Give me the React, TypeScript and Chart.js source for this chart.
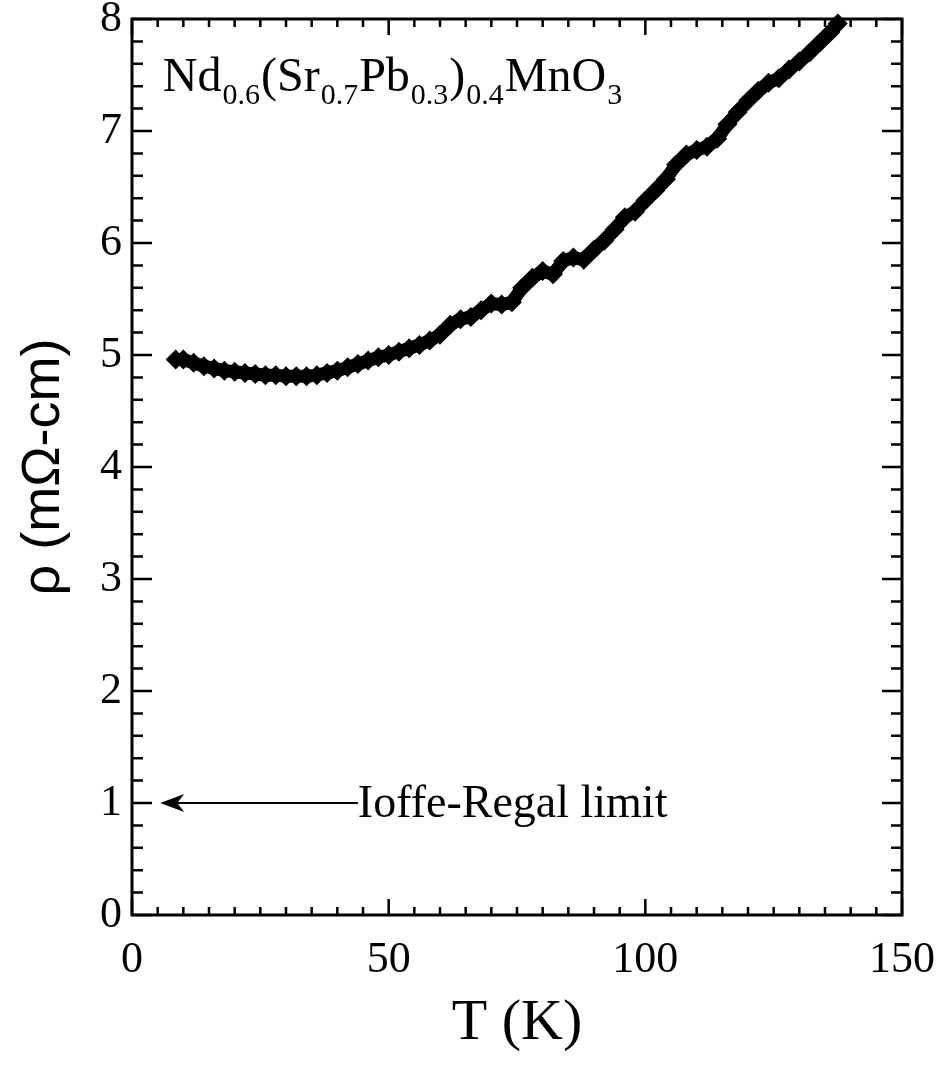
import React, { useEffect, useRef } from "react";
import { Chart, registerables } from "chart.js";

Chart.register(...registerables);

// ---- data ----
const temperatureK = [
  8.5, 10, 12, 14, 16, 18, 20, 22, 24, 26, 28, 30, 32, 34, 36, 38, 40, 42, 44, 46,
  48, 50, 52, 54, 56, 58, 60, 62, 64, 66, 68, 70, 72, 74, 76, 78, 80, 82, 84, 86,
  88, 90, 92, 94, 96, 98, 100, 102, 104, 106, 108, 110, 112, 114, 116, 118, 120,
  122, 124, 126, 128, 130, 132, 134, 136, 137.5,
];
const resistivity = [
  4.96, 4.96, 4.93, 4.9, 4.88, 4.86, 4.85, 4.84, 4.83, 4.82, 4.82, 4.81, 4.81, 4.81,
  4.82, 4.84, 4.86, 4.89, 4.92, 4.95, 4.98, 5.0, 5.03, 5.06, 5.09, 5.13, 5.18, 5.27,
  5.32, 5.34, 5.4, 5.46, 5.45, 5.47, 5.6, 5.69, 5.75, 5.72, 5.84, 5.87, 5.85, 5.94,
  6.02, 6.12, 6.23, 6.28, 6.38, 6.47, 6.57, 6.7, 6.79, 6.83, 6.86, 6.93, 7.06, 7.17,
  7.27, 7.36, 7.43, 7.47, 7.55, 7.62, 7.7, 7.79, 7.88, 7.96,
];

const xTickValues = [0, 50, 100, 150];
const yTickValues = [0, 1, 2, 3, 4, 5, 6, 7, 8];
const xMinorStep = 5;
const yMinorStep = 0.2;

const xTitle = "T (K)";
const yTitle = "ρ (mΩ-cm)";

// formula: [text, isSubscript]
const formulaParts: [string, boolean][] = [
  ["Nd", false],
  ["0.6", true],
  ["(Sr", false],
  ["0.7", true],
  ["Pb", false],
  ["0.3", true],
  [")", false],
  ["0.4", true],
  ["MnO", false],
  ["3", true],
];
const formulaAnchor = { T: 6, rho: 7.36 };

const limitLabel = "Ioffe-Regal limit";
const limitValue = 1;
const limitArrowTipT = 5.5;
const limitLabelT = 44;

const SERIF = "'Liberation Serif', 'DejaVu Serif', serif";
const SANS = "'Liberation Sans', Arial, sans-serif";

const decorPlugin = {
  id: "decor",
  afterDraw(chart: any) {
    const { ctx, chartArea, scales } = chart;
    const { left, right, top, bottom } = chartArea;
    const xs = scales.x;
    const ys = scales.y;
    ctx.save();
    ctx.strokeStyle = "#000";
    ctx.fillStyle = "#000";

    // frame
    ctx.lineWidth = 3;
    ctx.strokeRect(left, top, right - left, bottom - top);

    // inward ticks, x (top & bottom)
    ctx.lineWidth = 2.5;
    const xMin = xs.min, xMax = xs.max;
    const nx = Math.round((xMax - xMin) / xMinorStep);
    for (let i = 0; i <= nx; i++) {
      const v = xMin + i * xMinorStep;
      const px = xs.getPixelForValue(v);
      const major = xTickValues.includes(v);
      const len = major ? 16 : 8;
      ctx.beginPath();
      ctx.moveTo(px, bottom);
      ctx.lineTo(px, bottom - len);
      ctx.moveTo(px, top);
      ctx.lineTo(px, top + len);
      ctx.stroke();
    }
    // inward ticks, y (left & right)
    const ny = Math.round((ys.max - ys.min) / yMinorStep);
    for (let i = 0; i <= ny; i++) {
      const v = ys.min + i * yMinorStep;
      const py = ys.getPixelForValue(v);
      const major = i % 5 === 0;
      const len = major ? 20 : 11;
      ctx.beginPath();
      ctx.moveTo(left, py);
      ctx.lineTo(left + len, py);
      ctx.moveTo(right, py);
      ctx.lineTo(right - len, py);
      ctx.stroke();
    }

    // formula
    let fx = xs.getPixelForValue(formulaAnchor.T);
    const fy = ys.getPixelForValue(formulaAnchor.rho);
    ctx.textBaseline = "alphabetic";
    ctx.textAlign = "left";
    for (const [txt, sub] of formulaParts) {
      ctx.font = sub ? `30px ${SERIF}` : `48px ${SERIF}`;
      ctx.fillText(txt, fx, sub ? fy + 13 : fy);
      fx += ctx.measureText(txt).width + 1;
    }

    // Ioffe-Regal arrow + label
    const ay = ys.getPixelForValue(limitValue);
    const tipX = xs.getPixelForValue(limitArrowTipT);
    const lx = xs.getPixelForValue(limitLabelT);
    ctx.lineWidth = 2;
    ctx.beginPath();
    ctx.moveTo(tipX + 4, ay);
    ctx.lineTo(lx, ay);
    ctx.stroke();
    ctx.beginPath();
    ctx.moveTo(tipX, ay);
    ctx.lineTo(tipX + 24, ay - 9);
    ctx.lineTo(tipX + 17, ay);
    ctx.lineTo(tipX + 24, ay + 9);
    ctx.closePath();
    ctx.fill();
    ctx.font = `46px ${SERIF}`;
    ctx.textBaseline = "middle";
    ctx.fillText(limitLabel, lx, ay + 2);
    ctx.restore();
  },
};

const zeroPad = (s: any) => {
  s.paddingLeft = 0;
  s.paddingRight = 0;
  s.paddingTop = 0;
  s.paddingBottom = 0;
};

export default function App() {
  const canvasRef = useRef<HTMLCanvasElement | null>(null);

  useEffect(() => {
    if (!canvasRef.current) return;
    const points = temperatureK.map((t, i) => ({ x: t, y: resistivity[i] }));
    const chart = new Chart(canvasRef.current, {
      type: "scatter",
      data: {
        datasets: [
          {
            data: points,
            showLine: true,
            borderColor: "#000",
            backgroundColor: "#000",
            borderWidth: 13,
            pointStyle: "rectRot",
            pointRadius: 10,
            pointBorderWidth: 0,
            clip: false as any,
          },
        ],
      },
      options: {
        responsive: false,
        animation: false,
        devicePixelRatio: 1,
        layout: { padding: { left: 0, top: 19, right: 35, bottom: 0 } },
        plugins: {
          legend: { display: false },
          tooltip: { enabled: false },
        },
        scales: {
          x: {
            type: "linear",
            min: 0,
            max: 150,
            grid: { display: false, drawTicks: false },
            border: { display: false },
            ticks: {
              stepSize: 50,
              padding: 19,
              color: "#000",
              font: { family: SERIF, size: 44 },
              callback: (v: any) => (xTickValues.includes(Number(v)) ? String(v) : ""),
            },
            title: {
              display: true,
              text: xTitle,
              color: "#000",
              font: { family: SERIF, size: 58 },
              padding: { top: 0, bottom: 17 },
            },
            afterFit: (s: any) => {
              s.height = 161;
              zeroPad(s);
            },
          },
          y: {
            type: "linear",
            min: 0,
            max: 8,
            grid: { display: false, drawTicks: false },
            border: { display: false },
            ticks: {
              stepSize: 1,
              padding: 10,
              color: "#000",
              font: { family: SERIF, size: 44 },
              callback: (v: any) => (yTickValues.includes(Number(v)) ? String(v) : ""),
            },
            title: {
              display: true,
              text: yTitle,
              color: "#000",
              font: { family: SANS, size: 54 },
              padding: { top: 12, bottom: 0 },
            },
            afterFit: (s: any) => {
              s.width = 132;
              zeroPad(s);
            },
          },
        },
      },
      plugins: [decorPlugin],
    });
    return () => chart.destroy();
  }, []);

  return (
    <div style={{ position: "absolute", left: 0, top: 0, width: 937, height: 1076, background: "#fff" }}>
      <canvas ref={canvasRef} width={937} height={1076} style={{ display: "block" }} />
    </div>
  );
}
